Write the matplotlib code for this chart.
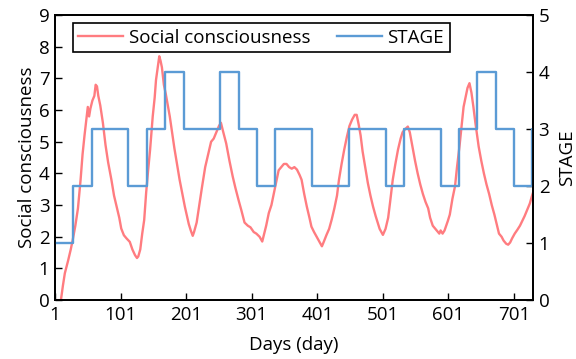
import matplotlib
matplotlib.use("Agg")
import matplotlib.pyplot as plt

# social consciousness (left axis)
days = [1, 10, 13, 16, 21, 25, 28, 32, 36, 40, 43, 46, 49, 51, 53, 55, 58, 61, 63, 65,
        67, 70, 74, 78, 82, 87, 91, 95, 99, 102, 106, 110, 115, 119, 123, 126, 128, 131,
        134, 137, 140, 143, 146, 150, 153, 155, 158, 160, 162, 164, 167, 170, 176, 183,
        191, 199, 205, 208, 211, 213, 217, 221, 225, 230, 234, 239, 243, 247, 251, 254,
        257, 262, 267, 272, 276, 281, 285, 290, 295, 299, 304, 308, 313, 317, 320, 323,
        327, 331, 335, 338, 342, 346, 350, 354, 358, 362, 366, 370, 374, 377, 381, 385,
        389, 392, 396, 400, 404, 408, 411, 415, 419, 423, 427, 431, 434, 438, 442, 446,
        450, 454, 458, 461, 464, 467, 470, 474, 478, 482, 486, 490, 493, 496, 501, 505,
        509, 512, 516, 520, 524, 528, 531, 535, 539, 542, 546, 550, 554, 558, 562, 566,
        570, 573, 577, 581, 584, 587, 589, 592, 595, 600, 603, 607, 611, 614, 618, 621,
        624, 627, 630, 633, 636, 639, 642, 647, 651, 655, 659, 663, 667, 671, 675, 678,
        682, 685, 689, 692, 695, 698, 702, 706, 710, 713, 717, 721, 725, 728, 730]
consciousness = [0.0, 0.0, 0.45, 0.85, 1.25, 1.6, 1.9, 2.35, 2.9, 3.8, 4.6, 5.2, 5.75, 6.1,
                 5.8, 6.05, 6.3, 6.45, 6.8, 6.75, 6.45, 6.15, 5.6, 4.9, 4.35, 3.8, 3.3, 2.95,
                 2.6, 2.26, 2.05, 1.95, 1.84, 1.6, 1.42, 1.33, 1.38, 1.6, 2.1, 2.53, 3.4, 4.1,
                 4.75, 5.8, 6.4, 6.95, 7.4, 7.7, 7.55, 7.35, 6.8, 6.5, 5.8, 4.8, 3.8, 2.95,
                 2.4, 2.2, 2.03, 2.15, 2.45, 3.0, 3.55, 4.2, 4.55, 5.0, 5.1, 5.3, 5.5, 5.6,
                 5.35, 4.95, 4.4, 3.9, 3.55, 3.15, 2.85, 2.45, 2.35, 2.3, 2.15, 2.1, 2.0,
                 1.85, 2.1, 2.35, 2.75, 3.0, 3.4, 3.7, 4.1, 4.2, 4.3, 4.3, 4.2, 4.15, 4.2,
                 4.12, 3.95, 3.8, 3.35, 2.95, 2.6, 2.32, 2.15, 2.0, 1.85, 1.7, 1.85, 2.06,
                 2.25, 2.55, 2.9, 3.3, 3.8, 4.3, 4.75, 5.15, 5.5, 5.7, 5.85, 5.85, 5.55, 5.2,
                 4.7, 4.2, 3.7, 3.3, 2.95, 2.65, 2.45, 2.25, 2.06, 2.25, 2.6, 3.1, 3.8, 4.3,
                 4.75, 5.1, 5.3, 5.4, 5.48, 5.3, 4.85, 4.4, 4.0, 3.65, 3.35, 3.1, 2.9, 2.6,
                 2.35, 2.25, 2.18, 2.1, 2.2, 2.1, 2.2, 2.5, 2.7, 3.2, 3.6, 4.2, 4.9, 5.5,
                 6.1, 6.4, 6.7, 6.85, 6.55, 6.1, 5.6, 4.85, 4.4, 4.0, 3.65, 3.35, 3.0, 2.7,
                 2.35, 2.1, 2.0, 1.88, 1.78, 1.75, 1.82, 1.95, 2.1, 2.22, 2.35, 2.48, 2.65,
                 2.85, 3.05, 3.27, 3.4]

# STAGE (right axis): first day of each step and its level
stage_days = [1, 29, 57, 113, 141, 169, 197, 253, 281, 309, 337, 393, 449, 505, 533,
              589, 617, 645, 673, 701, 729, 730]
stage_values = [1, 2, 3, 2, 3, 4, 3, 4, 3, 2, 3, 2, 3, 2, 3, 2, 3, 4, 3, 2, 3, 3]

x_ticks = [1, 101, 201, 301, 401, 501, 601, 701]

plt.rcParams['font.family'] = ['Open Sans', 'DejaVu Sans']
plt.rcParams['font.size'] = 13.5

fig = plt.figure(figsize=(5.76, 3.59), dpi=100)
ax1 = fig.add_axes([0.0955, 0.164, 0.830, 0.794])
ax2 = ax1.twinx()

line1, = ax1.plot(days, consciousness, color='#FF7C80', lw=1.7, label='Social consciousness')
line2, = ax2.step(stage_days, stage_values, where='post', color='#5B9BD5', lw=1.7, label='STAGE')

ax1.set_xlim(1, 730)
ax1.set_ylim(0, 9)
ax2.set_ylim(0, 5)
ax1.set_xticks(x_ticks)
ax1.set_yticks(range(0, 10))
ax2.set_yticks(range(0, 6))

ax1.set_xlabel('Days (day)', labelpad=9)
ax1.set_ylabel('Social consciousness', labelpad=2)
ax2.set_ylabel('STAGE', labelpad=6)

for ax in (ax1, ax2):
    for s in ax.spines.values():
        s.set_linewidth(1.3)
    ax.tick_params(direction='in', length=5, width=1.0, pad=4)

leg = ax2.legend(handles=[line1, line2], loc='upper left', ncol=2,
                 bbox_to_anchor=(0.037, 0.972), borderaxespad=0, fancybox=False,
                 framealpha=1, edgecolor='black', handlelength=2.4,
                 columnspacing=1.4, handletextpad=0.3, borderpad=0.3)
leg.get_frame().set_linewidth(1.2)

fig.savefig('out.png', dpi=100)
